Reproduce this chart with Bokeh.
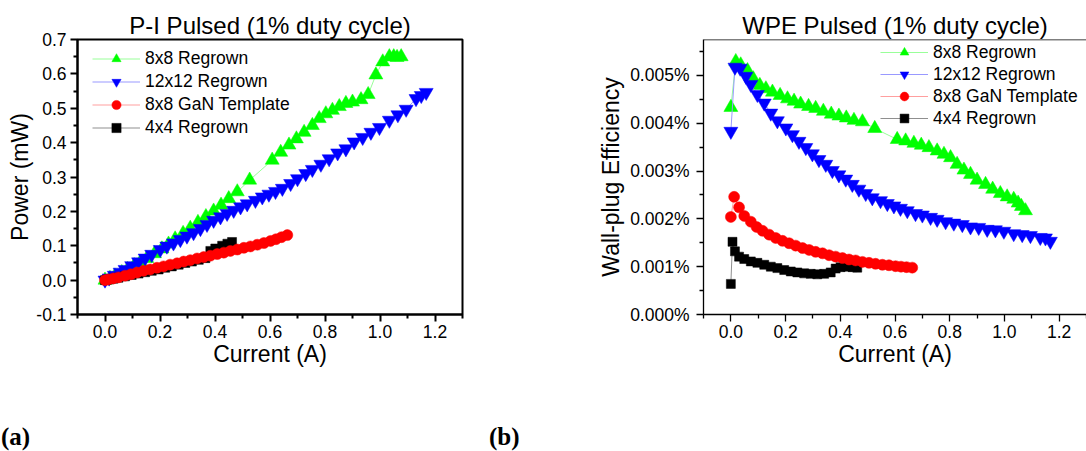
from bokeh.plotting import figure
from bokeh.models import (Legend, LegendItem, FixedTicker, PrintfTickFormatter,
                          Range1d, Span, Div)
from bokeh.layouts import row, column
from bokeh.embed import file_html
from bokeh.resources import INLINE

FONT = "Liberation Sans"

# ---------------- data ----------------
SERIES_NAMES = ["8x8 Regrown", "12x12 Regrown", "8x8 GaN Template", "4x4 Regrown"]
PANEL_LABELS = ["(a)", "(b)"]

current_8x8_regrown = [0.000, 0.018, 0.036, 0.061, 0.082, 0.106, 0.128, 0.152, 0.180, 0.207,
                       0.231, 0.255, 0.284, 0.310, 0.338, 0.367, 0.395, 0.422, 0.450, 0.481,
                       0.526, 0.608, 0.639, 0.669, 0.696, 0.724, 0.754, 0.779, 0.803, 0.827,
                       0.852, 0.876, 0.900, 0.931, 0.957, 0.985, 1.010, 1.034, 1.050, 1.062,
                       1.077]
power_8x8_regrown = [0.000, 0.005, 0.012, 0.022, 0.031, 0.042, 0.052, 0.063, 0.077, 0.091,
                     0.105, 0.120, 0.136, 0.151, 0.168, 0.185, 0.201, 0.218, 0.237, 0.257,
                     0.291, 0.349, 0.372, 0.393, 0.411, 0.430, 0.450, 0.470, 0.484, 0.494,
                     0.505, 0.514, 0.518, 0.525, 0.540, 0.597, 0.635, 0.650, 0.650, 0.648,
                     0.650]
wpe_8x8_regrown = [0.00433, 0.00529, 0.00522, 0.00510, 0.00493, 0.00479, 0.00472, 0.00465, 0.00458, 0.00451,
                   0.00446, 0.00440, 0.00435, 0.00431, 0.00425, 0.00419, 0.00415, 0.00411, 0.00406, 0.00403,
                   0.00389, 0.00366, 0.00363, 0.00358, 0.00354, 0.00349, 0.00342, 0.00335, 0.00328, 0.00314,
                   0.00302, 0.00293, 0.00281, 0.00272, 0.00262, 0.00253, 0.00246, 0.00241, 0.00233, 0.00226,
                   0.00217]

current_12x12_regrown = [0.000, 0.015, 0.034, 0.055, 0.073, 0.097, 0.122, 0.146, 0.170, 0.201,
                         0.225, 0.249, 0.274, 0.298, 0.322, 0.347, 0.371, 0.395, 0.420, 0.444,
                         0.468, 0.493, 0.517, 0.547, 0.572, 0.596, 0.620, 0.645, 0.675, 0.700,
                         0.730, 0.754, 0.785, 0.815, 0.846, 0.876, 0.906, 0.937, 0.967, 0.998,
                         1.034, 1.065, 1.095, 1.131, 1.150, 1.168]
power_12x12_regrown = [0.000, 0.006, 0.014, 0.023, 0.031, 0.042, 0.053, 0.064, 0.075, 0.089,
                       0.099, 0.108, 0.118, 0.128, 0.138, 0.150, 0.162, 0.174, 0.184, 0.194,
                       0.203, 0.213, 0.222, 0.232, 0.242, 0.250, 0.258, 0.267, 0.281, 0.295,
                       0.310, 0.322, 0.337, 0.353, 0.370, 0.382, 0.402, 0.415, 0.430, 0.444,
                       0.465, 0.481, 0.497, 0.528, 0.537, 0.546]
wpe_12x12_regrown = [0.00383, 0.00517, 0.00515, 0.00498, 0.00481, 0.00460, 0.00442, 0.00421, 0.00405, 0.00390,
                     0.00376, 0.00362, 0.00349, 0.00336, 0.00324, 0.00314, 0.00301, 0.00292, 0.00283, 0.00272,
                     0.00262, 0.00253, 0.00244, 0.00238, 0.00232, 0.00227, 0.00222, 0.00217, 0.00211, 0.00208,
                     0.00203, 0.00199, 0.00194, 0.00191, 0.00188, 0.00183, 0.00182, 0.00178, 0.00177, 0.00174,
                     0.00169, 0.00167, 0.00165, 0.00161, 0.00160, 0.00153]

current_8x8_gan_template = [0.000, 0.012, 0.030, 0.049, 0.073, 0.094, 0.116, 0.140, 0.164, 0.189,
                            0.213, 0.237, 0.262, 0.286, 0.310, 0.335, 0.359, 0.383, 0.408, 0.432,
                            0.456, 0.481, 0.505, 0.529, 0.554, 0.578, 0.602, 0.622, 0.642, 0.663]
power_8x8_gan_template = [0.000, 0.002, 0.005, 0.008, 0.013, 0.017, 0.022, 0.027, 0.031, 0.036,
                          0.040, 0.045, 0.049, 0.054, 0.058, 0.063, 0.067, 0.071, 0.076, 0.080,
                          0.085, 0.089, 0.094, 0.098, 0.103, 0.108, 0.114, 0.119, 0.125, 0.131]
wpe_8x8_gan_template = [0.00204, 0.00246, 0.00224, 0.00206, 0.00194, 0.00183, 0.00175, 0.00167, 0.00160, 0.00154,
                        0.00149, 0.00144, 0.00139, 0.00135, 0.00131, 0.00128, 0.00124, 0.00121, 0.00118, 0.00115,
                        0.00113, 0.00110, 0.00108, 0.00106, 0.00104, 0.00103, 0.00101, 0.00100, 0.00099, 0.00098]

current_4x4_regrown = [0.000, 0.006, 0.015, 0.030, 0.049, 0.073, 0.097, 0.122, 0.146, 0.170,
                       0.195, 0.219, 0.243, 0.268, 0.292, 0.316, 0.341, 0.365, 0.383, 0.401,
                       0.426, 0.445, 0.462]
power_4x4_regrown = [0.000, 0.001, 0.002, 0.004, 0.007, 0.011, 0.015, 0.019, 0.023, 0.027,
                     0.031, 0.036, 0.040, 0.045, 0.050, 0.054, 0.059, 0.064, 0.085, 0.092,
                     0.100, 0.106, 0.111]
wpe_4x4_regrown = [0.00064, 0.00152, 0.00132, 0.00121, 0.00116, 0.00111, 0.00108, 0.00104, 0.00100, 0.00097,
                   0.00093, 0.00090, 0.00088, 0.00086, 0.00085, 0.00084, 0.00085, 0.00088, 0.00096, 0.00099,
                   0.00100, 0.00099, 0.00098]

CURRENT_TICKS = [0.0, 0.2, 0.4, 0.6, 0.8, 1.0, 1.2]
CURRENT_MINOR = [-0.1, 0.1, 0.3, 0.5, 0.7, 0.9, 1.1, 1.3]
POWER_TICKS = [-0.1, 0.0, 0.1, 0.2, 0.3, 0.4, 0.5, 0.6, 0.7]
POWER_MINOR = [-0.05, 0.05, 0.15, 0.25, 0.35, 0.45, 0.55, 0.65]
WPE_TICKS = [0.000, 0.001, 0.002, 0.003, 0.004, 0.005]
WPE_MINOR = [0.0005, 0.0015, 0.0025, 0.0035, 0.0045, 0.0055]

CURRENTS = [current_8x8_regrown, current_12x12_regrown, current_8x8_gan_template, current_4x4_regrown]
POWERS = [power_8x8_regrown, power_12x12_regrown, power_8x8_gan_template, power_4x4_regrown]
WPES = [wpe_8x8_regrown, wpe_12x12_regrown, wpe_8x8_gan_template, wpe_4x4_regrown]

# ---------------- styles ----------------
COLORS = ["#00ff00", "#0000ff", "#ff0000", "#000000"]
LINE_COLORS = ["#99ff99", "#9999ff", "#ff9f9f", "#8f8f8f"]
MARKERS = ["triangle", "inverted_triangle", "circle", "square"]
SIZES = [14, 14, 11, 9]
DRAW_ORDER = [0, 1, 3, 2]


def style_axis(ax, lw, label_standoff, axis_label_standoff):
    ax.axis_line_width = lw
    ax.axis_line_color = "black"
    ax.major_tick_line_width = lw
    ax.minor_tick_line_width = lw
    ax.major_tick_line_color = "black"
    ax.minor_tick_line_color = "black"
    ax.major_tick_in = 0
    ax.major_tick_out = 7
    ax.minor_tick_in = 0
    ax.minor_tick_out = 4
    ax.major_label_text_font = FONT
    ax.major_label_text_font_size = "17.5px"
    ax.major_label_text_color = "black"
    ax.major_label_standoff = label_standoff
    ax.axis_label_text_font = FONT
    ax.axis_label_text_font_size = "23px"
    ax.axis_label_text_font_style = "normal"
    ax.axis_label_text_color = "black"
    ax.axis_label_standoff = axis_label_standoff


def build(fig, ydata, legend_loc, row_h):
    rends = {}
    for i in DRAW_ORDER:
        ln = fig.line(CURRENTS[i], ydata[i], line_color=LINE_COLORS[i], line_width=1)
        sc = fig.scatter(CURRENTS[i], ydata[i], marker=MARKERS[i], size=SIZES[i],
                         fill_color=COLORS[i], line_color=COLORS[i], line_width=0.5)
        rends[i] = [ln, sc]
    items = [LegendItem(label=SERIES_NAMES[i], renderers=rends[i]) for i in range(4)]
    lg = Legend(items=items, location=legend_loc, orientation="vertical",
                glyph_width=48, glyph_height=row_h, label_height=row_h,
                label_standoff=5, spacing=0, padding=0, margin=0,
                border_line_color=None, background_fill_alpha=0,
                label_text_font=FONT, label_text_font_size="17.5px",
                label_text_color="black")
    fig.add_layout(lg)


def style_title(fig):
    fig.title.text_font = FONT
    fig.title.text_font_size = "24px"
    fig.title.text_font_style = "normal"
    fig.title.text_color = "black"
    fig.title.align = "center"
    fig.title.standoff = 1


# ---------------- (a) P-I ----------------
p1 = figure(width=590, height=418, x_range=Range1d(-0.1, 1.3), y_range=Range1d(-0.1, 0.7),
            output_backend="svg", toolbar_location=None,
            min_border_left=77, min_border_right=128, min_border_top=39, min_border_bottom=103,
            title="P-I Pulsed (1% duty cycle)")
style_title(p1)
p1.xgrid.visible = False
p1.ygrid.visible = False
p1.outline_line_color = "black"
p1.outline_line_width = 2
p1.outline_line_alpha = 1
p1.xaxis.axis_label = "Current (A)"
p1.yaxis.axis_label = "Power (mW)"
p1.xaxis.ticker = FixedTicker(ticks=CURRENT_TICKS, minor_ticks=CURRENT_MINOR)
p1.yaxis.ticker = FixedTicker(ticks=POWER_TICKS, minor_ticks=POWER_MINOR)
p1.xaxis.formatter = PrintfTickFormatter(format="%.1f")
p1.yaxis.formatter = PrintfTickFormatter(format="%.1f")
style_axis(p1.xaxis[0], 2, 3, 0)
style_axis(p1.yaxis[0], 2, 4, 0)
build(p1, POWERS, (15, 175), 23)

# ---------------- (b) WPE ----------------
p2 = figure(width=496, height=418, x_range=Range1d(-0.1, 1.3), y_range=Range1d(0, 0.00575),
            output_backend="svg", toolbar_location=None,
            min_border_left=113, min_border_right=0, min_border_top=38, min_border_bottom=104,
            title="WPE Pulsed (1% duty cycle)")
style_title(p2)
p2.xgrid.visible = False
p2.ygrid.visible = False
p2.outline_line_color = None
p2.xaxis.axis_label = "Current (A)"
p2.yaxis.axis_label = "Wall-plug Efficiency"
p2.xaxis.ticker = FixedTicker(ticks=CURRENT_TICKS, minor_ticks=CURRENT_MINOR)
p2.yaxis.ticker = FixedTicker(ticks=WPE_TICKS, minor_ticks=WPE_MINOR)
p2.xaxis.formatter = PrintfTickFormatter(format="%.1f")
p2.yaxis.formatter = PrintfTickFormatter(format="%.3f%%")
style_axis(p2.xaxis[0], 1.3, 3, 0)
style_axis(p2.yaxis[0], 1.3, 7, 3)
p2.add_layout(Span(location=0.00575, dimension="width", line_color="black", line_width=1.3))
build(p2, WPES, (177, 185), 22)

# ---------------- panel labels ----------------
label_html = (
    '<div style="position:relative;width:1080px;height:31px;overflow:visible;'
    'font-family:&quot;Liberation Serif&quot;,&quot;Times New Roman&quot;,serif;'
    'font-weight:bold;font-size:25px;line-height:25px;color:#000;">'
    '<span style="position:absolute;left:-4px;top:1px;">%s</span>'
    '<span style="position:absolute;left:484px;top:1px;">%s</span>'
    '</div>' % (PANEL_LABELS[0], PANEL_LABELS[1])
)
labels = Div(text=label_html, width=1080, height=31)

layout = column(row(p1, p2), labels)
open("out.html", "w").write(file_html(layout, INLINE))
